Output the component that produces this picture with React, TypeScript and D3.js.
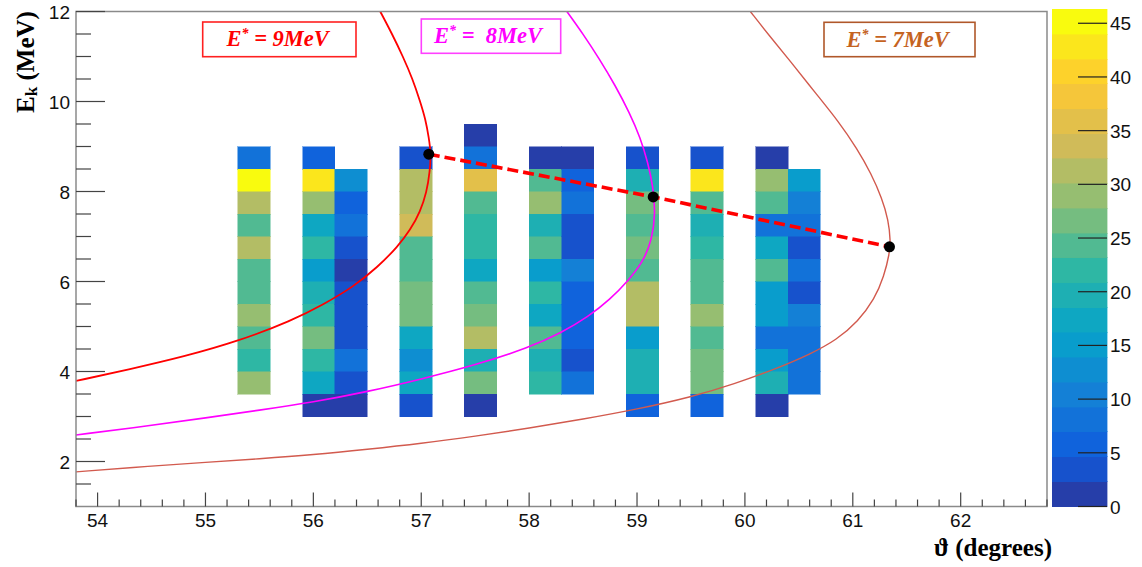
import React from "react";
import * as d3 from "d3";

const W = 1142;
const H = 567;

// ---- axis domains & ticks ----
const xDomain = [53.8, 62.8];
const yDomain = [1, 12];
const zMax = 46.3;
const nLevels = 20;
const xMajorTicks = [54, 55, 56, 57, 58, 59, 60, 61, 62];
const yMajorTicks = [2, 4, 6, 8, 10, 12];
const zTicks = [0, 5, 10, 15, 20, 25, 30, 35, 40, 45];

// ---- histogram (TH2) data: columns of 0.3 deg x 0.5 MeV bins, values listed top -> bottom ----
const binWidth = 0.3;
const binHeight = 0.5;
const columnStart = [55.3, 55.9, 56.2, 56.8, 57.4, 58.0, 58.3, 58.9, 59.5, 60.1, 60.4];
const columnTop = [9.0, 9.0, 8.5, 9.0, 9.5, 9.0, 9.0, 9.0, 9.0, 9.0, 8.5];
const colA = [8, 45, 31, 24, 31, 24, 24, 29, 24, 22, 29];
const colB = [6, 43, 29, 17, 22, 15, 20, 22, 26, 22, 17, 1];
const colC = [13, 6, 8, 3, 1, 3, 3, 3, 8, 3, 1];
const colD = [3, 31, 31, 33, 24, 24, 26, 26, 17, 13, 17, 3];
const colE = [1, 8, 36, 24, 22, 22, 17, 24, 26, 31, 20, 26, 1];
const colF = [1, 24, 29, 20, 24, 15, 22, 17, 24, 20, 22];
const colG = [1, 6, 8, 3, 3, 10, 6, 6, 6, 3, 8];
const colH = [3, 20, 26, 24, 26, 24, 31, 31, 15, 20, 20, 6];
const colI = [3, 43, 24, 20, 22, 24, 24, 29, 24, 26, 26, 6];
const colJ = [1, 29, 24, 8, 17, 24, 15, 15, 8, 15, 20, 1];
const colK = [15, 10, 7, 3, 8, 3, 10, 8, 8, 8];
const columnValues = [colA, colB, colC, colD, colE, colF, colG, colH, colI, colJ, colK];

// ---- kinematic curves (theta deg, E MeV) ----
const curve9 = [
  [53.8, 3.79], [54.3, 4.05], [54.8, 4.33], [55.3, 4.67], [55.8, 5.13], [56.1, 5.5],
  [56.37, 5.88], [56.6, 6.33], [56.78, 6.77], [56.9, 7.15], [56.99, 7.55], [57.05, 7.98],
  [57.08, 8.45], [57.09, 8.85], [57.07, 9.2], [57.04, 9.6], [56.99, 10.0], [56.92, 10.5],
  [56.83, 11.0], [56.73, 11.5], [56.62, 12.0],
];
const curve8 = [
  [53.8, 2.59], [54.5, 2.8], [55.0, 2.97], [55.5, 3.14], [56.0, 3.32], [56.5, 3.55],
  [57.0, 3.83], [57.5, 4.14], [58.0, 4.53], [58.3, 4.86], [58.55, 5.22], [58.75, 5.6],
  [58.92, 6.02], [59.06, 6.45], [59.14, 6.95], [59.17, 7.5], [59.15, 8.1], [59.1, 8.65],
  [59.03, 9.2], [58.93, 9.75], [58.8, 10.35], [58.65, 10.95], [58.5, 11.5], [58.35, 12.0],
];
const curve7 = [
  [53.8, 1.77], [54.5, 1.9], [55.0, 1.98], [55.5, 2.06], [56.0, 2.15], [56.5, 2.27],
  [57.0, 2.4], [57.5, 2.56], [58.0, 2.74], [58.5, 2.94], [59.0, 3.16], [59.5, 3.43],
  [59.9, 3.72], [60.3, 4.07], [60.6, 4.38], [60.85, 4.7], [61.05, 5.12], [61.2, 5.6],
  [61.29, 6.12], [61.34, 6.62], [61.35, 6.9], [61.33, 7.37], [61.27, 7.85], [61.17, 8.4],
  [61.04, 8.95], [60.87, 9.55], [60.65, 10.2], [60.42, 10.9], [60.23, 11.45], [60.05, 12.0],
];
const curveColors = ["#ff0000", "#ff00ff", "#d25a4e"];
const curveWidths = [1.8, 1.6, 1.4];

// ---- maxima points joined by the dashed line ----
const peakTheta = [57.07, 59.15, 61.34];
const peakE = [8.83, 7.88, 6.77];

// ---- legend labels ----
const legendNumbers = ["9", " 8", "7"];
const legendText = ["#ff0000", "#ff00ff", "#c5631f"];
const legendBorder = ["#ff2020", "#ff40ff", "#b0582a"];

// ---- ROOT kBird palette ----
const birdStops = [0, 0.125, 0.25, 0.375, 0.5, 0.625, 0.75, 0.875, 1];
const birdR = [0.2082, 0.0592, 0.078, 0.0232, 0.1802, 0.5301, 0.8186, 0.9956, 0.9764];
const birdG = [0.1664, 0.3599, 0.5041, 0.6419, 0.7178, 0.7492, 0.7328, 0.7862, 0.9832];
const birdB = [0.5293, 0.8684, 0.8385, 0.7914, 0.6425, 0.4662, 0.3499, 0.1968, 0.0539];
const rS = d3.scaleLinear().domain(birdStops).range(birdR);
const gS = d3.scaleLinear().domain(birdStops).range(birdG);
const bS = d3.scaleLinear().domain(birdStops).range(birdB);
const bird = (t: number) => d3.rgb(rS(t) * 255, gS(t) * 255, bS(t) * 255).formatHex();
const levelColor = (k: number) => bird((k + 0.99) / nLevels);
const valueColor = (v: number) => {
  const k = Math.max(0, Math.min(nLevels - 1, Math.floor(v / (zMax / nLevels))));
  return levelColor(k);
};

const SANS = "'Liberation Sans', Arial, Helvetica, sans-serif";
const SERIF = "'Liberation Serif', 'Times New Roman', serif";

export default function App() {
  const x = d3.scaleLinear().domain(xDomain).range([76, 1047]);
  const y = d3.scaleLinear().domain(yDomain).range([506.5, 11.5]);
  const z = d3.scaleLinear().domain([0, zMax]).range([506.5, 9.3]);

  const cells: { x0: number; y1: number; v: number }[] = [];
  columnValues.forEach((vals, ci) => {
    vals.forEach((v, ri) => {
      cells.push({ x0: columnStart[ci], y1: columnTop[ci] - ri * binHeight, v });
    });
  });

  const line = d3
    .line<number[]>()
    .x((d) => x(d[0]))
    .y((d) => y(d[1]))
    .curve(d3.curveBasis);

  const xMinor = d3
    .range(0, 46)
    .map((i) => Math.round((53.8 + i * 0.2) * 10) / 10)
    .filter((v) => v <= 62.8 && !xMajorTicks.includes(v));
  const yMinor = d3
    .range(0, 23)
    .map((i) => 1 + i * 0.5)
    .filter((v) => v > 1 && v < 12 && !yMajorTicks.includes(v));

  const peaks = peakTheta.map((t, i) => [t, peakE[i]]);
  const curves = [curve9, curve8, curve7];

  const boxes = [
    { x: 202.7, y: 22, w: 153.3, h: 34.7, tx: 226.5, ty: 46 },
    { x: 421.3, y: 19, w: 139.4, h: 34.3, tx: 434, ty: 43 },
    { x: 824, y: 22.3, w: 151, h: 34.4, tx: 846.5, ty: 46.5 },
  ];

  return (
    <svg width={W} height={H} style={{ position: "absolute", left: 0, top: 0, background: "#fff" }}>
      <rect x={0} y={0} width={W} height={H} fill="#fff" />
      <defs>
        <clipPath id="plotClip">
          <rect x={76} y={11.5} width={971} height={495} />
        </clipPath>
      </defs>

      {/* heatmap cells */}
      <g shapeRendering="crispEdges">
        {cells.map((c, i) => (
          <rect
            key={i}
            x={x(c.x0)}
            y={y(c.y1)}
            width={x(c.x0 + binWidth) - x(c.x0)}
            height={y(c.y1 - binHeight) - y(c.y1)}
            fill={valueColor(c.v)}
            stroke={valueColor(c.v)}
            strokeWidth={0.5}
          />
        ))}
      </g>

      {/* curves */}
      <g clipPath="url(#plotClip)" fill="none">
        {curves.map((c, i) => (
          <path key={i} d={line(c) || ""} stroke={curveColors[i]} strokeWidth={curveWidths[i]} />
        ))}
      </g>

      {/* dashed line + points */}
      <path
        d={d3.line<number[]>().x((d) => x(d[0])).y((d) => y(d[1]))(peaks) || ""}
        fill="none"
        stroke="#ff0000"
        strokeWidth={3.6}
        strokeDasharray="11 5"
      />
      {peaks.map((p, i) => (
        <circle key={i} cx={x(p[0])} cy={y(p[1])} r={5.5} fill="#000" />
      ))}

      {/* legend boxes */}
      {boxes.map((b, i) => (
        <g key={i}>
          <rect x={b.x} y={b.y} width={b.w} height={b.h} fill="#fff" stroke={legendBorder[i]} strokeWidth={1.6} />
          <text
            x={b.tx}
            y={b.ty}
            fill={legendText[i]}
            fontFamily={SERIF}
            fontWeight="bold"
            fontStyle="italic"
            fontSize={22.5}
            style={{ whiteSpace: "pre" }}
          >
            <tspan>E</tspan>
            <tspan dy={-8} fontSize={14}>*</tspan>
            <tspan dy={8}>{" = " + legendNumbers[i]}</tspan>
            <tspan>MeV</tspan>
          </text>
        </g>
      ))}

      {/* frame */}
      <rect x={76} y={11.5} width={971} height={495} fill="none" stroke="#8a8a8a" strokeWidth={1.5} />

      {/* ticks */}
      <g stroke="#444" strokeWidth={1.2}>
        {xMajorTicks.map((t) => (
          <line key={"xM" + t} x1={x(t)} x2={x(t)} y1={506.5} y2={492.5} />
        ))}
        {xMinor.map((t) => (
          <line key={"xm" + t} x1={x(t)} x2={x(t)} y1={506.5} y2={499.5} />
        ))}
        {yMajorTicks.map((t) => (
          <line key={"yM" + t} x1={76} x2={105} y1={y(t)} y2={y(t)} />
        ))}
        {yMinor.map((t) => (
          <line key={"ym" + t} x1={76} x2={91} y1={y(t)} y2={y(t)} />
        ))}
      </g>
      <g fontFamily={SANS} fontSize={19} fill="#111">
        {xMajorTicks.map((t) => (
          <text key={"xl" + t} x={x(t)} y={527} textAnchor="middle">
            {t}
          </text>
        ))}
        {yMajorTicks.map((t) => (
          <text key={"yl" + t} x={70} y={y(t) + 7} textAnchor="end">
            {t}
          </text>
        ))}
      </g>

      {/* axis titles */}
      <text
        transform="translate(34,62) rotate(-90)"
        textAnchor="middle"
        fontFamily={SERIF}
        fontWeight="bold"
        fontSize={25}
        fill="#000"
      >
        E<tspan fontSize={17} dy={3}>k</tspan>
        <tspan dy={-3}> (MeV)</tspan>
      </text>
      <text x={1052} y={556} textAnchor="end" fontFamily={SERIF} fontWeight="bold" fontSize={25} fill="#000">
        ϑ (degrees)
      </text>

      {/* color bar */}
      <g shapeRendering="crispEdges">
        {d3.range(nLevels).map((k) => {
          const v0 = (k * zMax) / nLevels;
          const v1 = ((k + 1) * zMax) / nLevels;
          return (
            <rect
              key={k}
              x={1052}
              y={z(v1)}
              width={55}
              height={z(v0) - z(v1)}
              fill={levelColor(k)}
              stroke={levelColor(k)}
              strokeWidth={0.4}
            />
          );
        })}
      </g>
      <g stroke="#222" strokeWidth={1.2}>
        {zTicks.map((t) => (
          <line key={"zt" + t} x1={1078} x2={1107} y1={z(t)} y2={z(t)} />
        ))}
      </g>
      <g fontFamily={SANS} fontSize={19} fill="#111">
        {zTicks.map((t) => (
          <text key={"zl" + t} x={1110} y={z(t) + 7}>
            {t}
          </text>
        ))}
      </g>
    </svg>
  );
}
